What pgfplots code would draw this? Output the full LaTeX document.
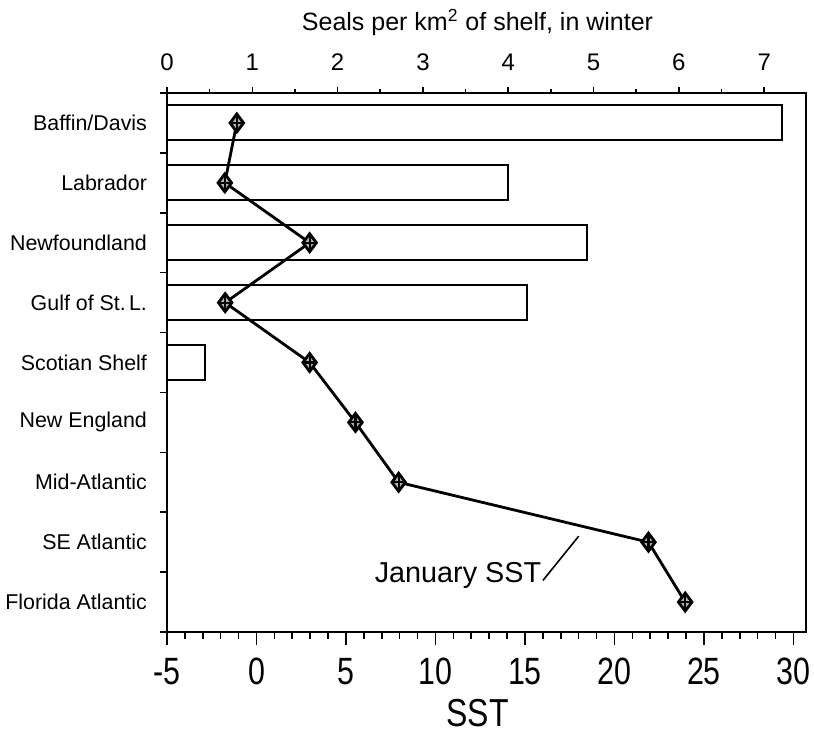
\documentclass[border=0pt]{standalone}
\usepackage{pgfplots}
\pgfplotsset{compat=1.18}
\usepackage{fontspec}
\setmainfont{Liberation Sans}
\newfontfamily\narrowfont[FakeStretch=0.8]{Liberation Sans}
\newfontfamily\sstfont[FakeStretch=0.82]{Liberation Sans}
\begin{document}
\begin{tikzpicture}
\pgfplotsset{
  common/.style={
    scale only axis, width=319.5pt, height=269.5pt,
    ymin=0.5, ymax=9.5, y dir=reverse,
    tick align=outside,
    every tick/.style={black, line width=0.8pt},
    axis line style={line width=1.2pt},
    /pgf/number format/assume math mode=true,
  }
}
% ---- top axis: seals per km^2 (bars)
\begin{axis}[common,
  xmin=0, xmax=7.49,
  axis x line*=top, axis y line=none,
  major tick length=3pt, minor tick length=2pt,
  xtick={0,...,7}, minor x tick num=1,
  x tick label style={font=\fontsize{12}{14}\selectfont, yshift=4.5pt},
  xlabel={Seals per km\textsuperscript{2} of shelf, in winter},
  xlabel style={font=\fontsize{12.5}{14}\selectfont, xshift=-4.5pt, yshift=2.5pt},
]
\addplot[xbar, bar width=17.5pt, bar shift=0pt, draw=black, line width=1pt, fill=white]
  coordinates {(7.21,1) (4.00,2) (4.92,3) (4.22,4) (0.45,5)};
\end{axis}
% ---- bottom / left axis: SST (line)
\begin{axis}[common, name=ax,
  xmin=-5, xmax=30.7,
  major tick length=6.5pt, minor tick length=3.5pt,
  xtick={-5,0,...,30}, minor x tick num=4,
  xtick pos=bottom, ytick pos=left,
  ytick={1,...,9},
  yticklabels={Baffin/Davis,Labrador,Newfoundland,Gulf of St.\kern0.15em L.,Scotian Shelf,New England,Mid-Atlantic,SE Atlantic,Florida Atlantic},
  minor ytick={0.5,1.5,...,9.5},
  major y tick style={draw=none},
  y tick label style={font=\fontsize{10.7}{12}\selectfont},
  x tick label style={font=\narrowfont\fontsize{19}{20}\selectfont, yshift=-3pt},
  xlabel={SST},
  xlabel style={font=\sstfont\fontsize{19.5}{21}\selectfont, xshift=-4.5pt, yshift=-2.5pt, inner sep=1pt},
  clip=false,
]
\addplot[black, line width=1.4pt, mark=diamond*, mark size=4.5pt,
  mark options={fill=black!30, line width=1.4pt, solid}]
  coordinates {(-1.1,1) (-1.77,2) (2.97,3) (-1.75,4) (2.97,5) (5.53,6) (7.94,7) (21.9,8) (23.95,9)};
\addplot[only marks, black, mark=+, mark size=3.3pt, mark options={line width=1.1pt}]
  coordinates {(-1.1,1) (-1.77,2) (2.97,3) (-1.75,4) (2.97,5) (5.53,6) (7.94,7) (21.9,8) (23.95,9)};
\node[anchor=base east, font=\fontsize{14.4}{16}\selectfont, inner sep=0pt] at (axis cs:15.93,8.67) {January SST};
\draw[line width=0.8pt] (axis cs:16.0,8.64) -- (axis cs:18.0,7.90);
\end{axis}
\pgfresetboundingbox
\path ([xshift=-83.5pt, yshift=-52.5pt]ax.south west) rectangle ([xshift=4pt, yshift=46.5pt]ax.north east);
\end{tikzpicture}
\end{document}
